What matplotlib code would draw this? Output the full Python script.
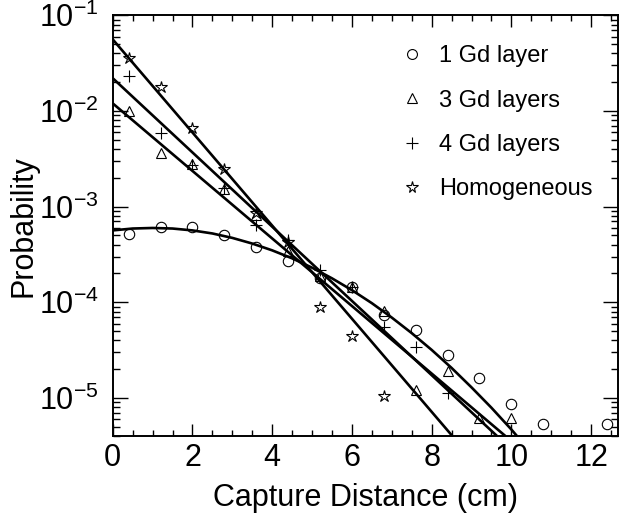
import matplotlib
matplotlib.use("Agg")
import matplotlib.pyplot as plt
from matplotlib.ticker import MultipleLocator, LogLocator

# measured points (bin centres, probability)
one_layer_x = [0.4, 1.2, 2.0, 2.8, 3.6, 4.4, 5.2, 6.0, 6.8, 7.6, 8.4, 9.2, 10.0, 10.8, 12.4]
one_layer_y = [5.15e-4, 6.14e-4, 6.18e-4, 5.06e-4, 3.82e-4, 2.71e-4, 1.81e-4, 1.44e-4,
               7.39e-5, 5.15e-5, 2.82e-5, 1.60e-5, 8.6e-6, 5.3e-6, 5.3e-6]

three_layer_x = [0.4, 1.2, 2.0, 2.8, 3.6, 4.4, 5.2, 6.0, 6.8, 7.6, 8.4, 9.2, 10.0]
three_layer_y = [1.0e-2, 3.61e-3, 2.77e-3, 1.52e-3, 8.19e-4, 3.47e-4, 1.86e-4, 1.46e-4,
                 8.13e-5, 1.22e-5, 1.89e-5, 6.15e-6, 6.15e-6]

four_layer_x = [0.4, 1.2, 2.0, 2.8, 3.6, 4.4, 5.2, 6.0, 6.8, 7.6, 8.4]
four_layer_y = [2.32e-2, 5.85e-3, 2.73e-3, 1.56e-3, 6.44e-4, 4.49e-4, 2.18e-4, 1.46e-4,
                5.57e-5, 3.40e-5, 1.12e-5]

homog_x = [0.4, 1.2, 2.0, 2.8, 3.6, 4.4, 5.2, 6.0, 6.8]
homog_y = [3.56e-2, 1.77e-2, 6.70e-3, 2.46e-3, 8.53e-4, 4.31e-4, 9.0e-5, 4.49e-5, 1.06e-5]

# fit curves
one_fit_x = [0.0, 0.5, 1.0, 1.5, 2.0, 2.5, 3.0, 3.5, 4.0, 4.5, 5.0, 5.5, 6.0, 6.5,
             7.0, 7.5, 8.0, 8.5, 9.0, 9.5, 10.0, 10.14]
one_fit_y = [5.64e-4, 5.90e-4, 5.98e-4, 5.90e-4, 5.64e-4, 5.24e-4, 4.71e-4, 4.11e-4,
             3.49e-4, 2.88e-4, 2.30e-4, 1.78e-4, 1.34e-4, 9.79e-5, 6.92e-5, 4.76e-5,
             3.18e-5, 2.06e-5, 1.29e-5, 7.90e-6, 4.68e-6, 4.0e-6]
three_fit_x = [0.0, 9.85]
three_fit_y = [1.2e-2, 4.0e-6]
four_fit_x = [0.0, 9.64]
four_fit_y = [2.2e-2, 4.0e-6]
homog_fit_x = [0.0, 8.52]
homog_fit_y = [5.6e-2, 4.0e-6]

labels = ["1 Gd layer", "3 Gd layers", "4 Gd layers", "Homogeneous"]


def main():
    plt.rcParams["font.family"] = ["Liberation Sans", "DejaVu Sans"]
    plt.rcParams["mathtext.fontset"] = "custom"
    plt.rcParams["mathtext.rm"] = "Liberation Sans"
    plt.rcParams["mathtext.it"] = "Liberation Sans"
    plt.rcParams["mathtext.bf"] = "Liberation Sans"

    fig = plt.figure(figsize=(6.21, 5.25), dpi=100)
    ax = fig.add_axes([0.1815, 0.1695, 0.8140, 0.8014])

    lw = 1.9
    ax.plot(one_fit_x, one_fit_y, color="black", lw=lw, solid_capstyle="butt")
    ax.plot(three_fit_x, three_fit_y, color="black", lw=lw, solid_capstyle="butt")
    ax.plot(four_fit_x, four_fit_y, color="black", lw=lw, solid_capstyle="butt")
    ax.plot(homog_fit_x, homog_fit_y, color="black", lw=lw, solid_capstyle="butt")

    ms = 7.5
    mew = 0.8
    ax.plot(one_layer_x, one_layer_y, "o", mfc="none", mec="black", ms=ms, mew=mew,
            label=labels[0], clip_on=False)
    ax.plot(three_layer_x, three_layer_y, "^", mfc="none", mec="black", ms=ms, mew=mew,
            label=labels[1])
    ax.plot(four_layer_x, four_layer_y, "+", color="black", ms=ms + 1, mew=mew,
            label=labels[2])
    ax.plot(homog_x, homog_y, "*", mfc="none", mec="black", ms=ms + 1.5, mew=mew,
            label=labels[3])

    ax.set_yscale("log")
    ax.set_xlim(0, 12.68)
    ax.set_ylim(4.0e-6, 1e-1)

    ax.xaxis.set_major_locator(MultipleLocator(2))
    ax.xaxis.set_minor_locator(MultipleLocator(0.5))
    ax.yaxis.set_major_locator(LogLocator(base=10, numticks=10))
    ax.yaxis.set_minor_locator(LogLocator(base=10, subs=range(2, 10), numticks=20))

    ax.tick_params(which="both", direction="in", top=True, right=True, width=1.0)
    ax.tick_params(axis="x", which="major", length=8.6, pad=5, labelsize=22)
    ax.tick_params(axis="x", which="minor", length=4.3)
    ax.tick_params(axis="y", which="major", length=10.8, pad=10, labelsize=22)
    ax.tick_params(axis="y", which="minor", length=5.0)
    for sp in ax.spines.values():
        sp.set_linewidth(1.4)

    ax.set_xlabel("Capture Distance (cm)", fontsize=22, labelpad=7)
    ax.set_ylabel("Probability", fontsize=22, labelpad=0)

    ax.legend(loc="upper left", bbox_to_anchor=(0.5688, 0.929), frameon=False,
              fontsize=17, handlelength=1.0, handletextpad=0.65, labelspacing=0.95,
              borderpad=0, borderaxespad=0, markerscale=0.95)

    plt.savefig("out.png", dpi=100)


if __name__ == "__main__":
    main()
